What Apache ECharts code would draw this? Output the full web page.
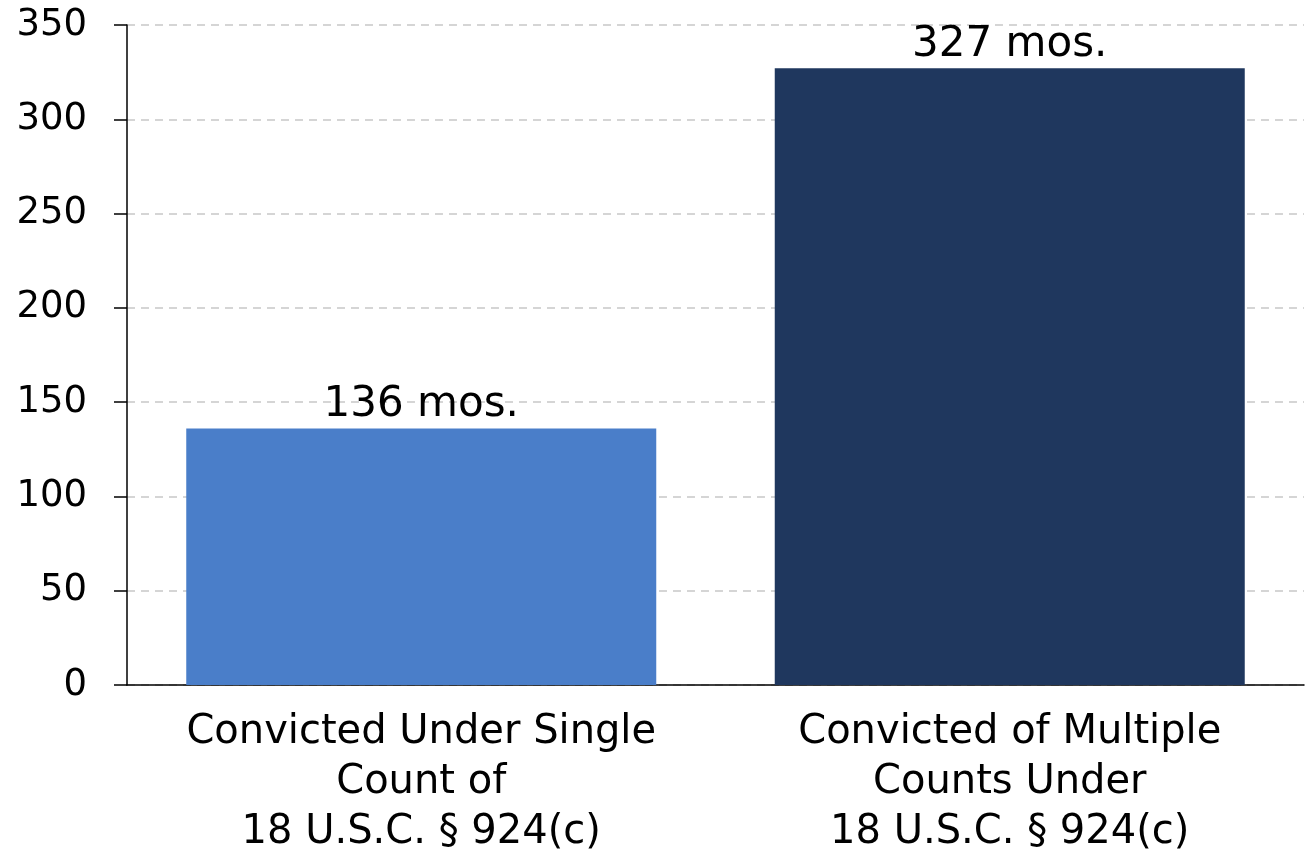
<!DOCTYPE html>
<html>
<head>
<meta charset="utf-8">
<script src="https://cdn.jsdelivr.net/npm/echarts@6/dist/echarts.min.js"></script>
<style>
  html, body { margin: 0; padding: 0; background: #fff; }
  #main { width: 1309px; height: 858px; }
</style>
</head>
<body>
<div id="main"></div>
<script>
// categories and values
var categories = [
  'Convicted Under Single\nCount of\n18 U.S.C. § 924(c)',
  'Convicted of Multiple\nCounts Under\n18 U.S.C. § 924(c)'
];
var months = [136, 327];
var barColors = ['#4a7ec9', '#1f375e'];
var yTicks = [0, 50, 100, 150, 200, 250, 300, 350];

var FONT = 'DejaVu Sans';
var chart = echarts.init(document.getElementById('main'));

var option = {
  animation: false,
  grid: { left: 127, right: 5, top: 25, bottom: 169 },
  xAxis: {
    type: 'category',
    data: categories,
    axisLine: { lineStyle: { color: '#000', width: 1.5 } },
    axisTick: { show: false },
    axisLabel: {
      color: '#000',
      fontFamily: FONT,
      fontSize: 40,
      lineHeight: 50,
      margin: 23,
      interval: 0
    }
  },
  yAxis: {
    type: 'value',
    min: yTicks[0],
    max: yTicks[yTicks.length - 1],
    interval: 50,
    axisLine: { show: true, lineStyle: { color: '#000', width: 1.5 } },
    axisTick: { show: true, length: 13, lineStyle: { color: '#000', width: 1.5 } },
    axisLabel: {
      color: '#000',
      fontFamily: FONT,
      fontSize: 37,
      margin: 40
    },
    splitLine: {
      lineStyle: { color: '#c8c8c8', type: [8, 6], width: 1.5 }
    }
  },
  series: [{
    type: 'bar',
    barWidth: 470,
    data: months.map(function (v, i) {
      return { value: v, itemStyle: { color: barColors[i] } };
    }),
    label: {
      show: true,
      position: 'top',
      distance: 2,
      color: '#000',
      fontFamily: FONT,
      fontSize: 42,
      formatter: '{c} mos.'
    }
  }]
};

chart.setOption(option);
</script>
</body>
</html>
